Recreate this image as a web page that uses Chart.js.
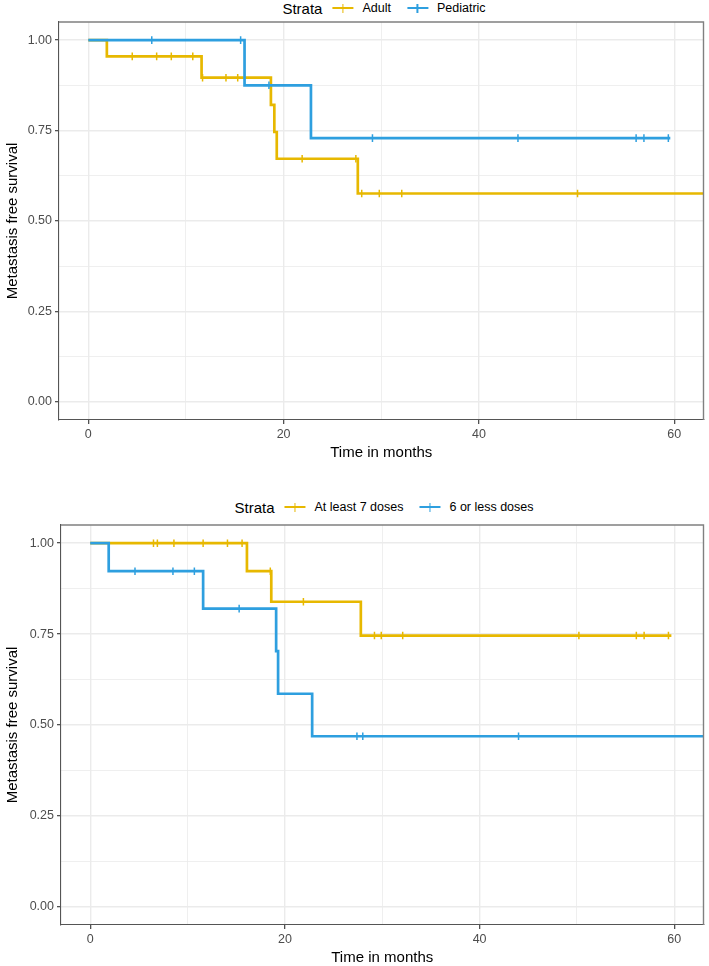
<!DOCTYPE html>
<html>
<head>
<meta charset="utf-8">
<script src="https://cdn.jsdelivr.net/npm/chart.js@4.4.1/dist/chart.umd.min.js"></script>
<style>
  html, body { margin: 0; padding: 0; background: #fff; overflow: hidden; }
  body { width: 709px; height: 966px; position: relative; font-family: "Liberation Sans", Arial, sans-serif; }
  canvas.plot { position: absolute; left: 0; }
  .legend { position: absolute; left: 384px; transform: translateX(-50%); height: 16px; display: flex; align-items: center; white-space: nowrap; color: #000; }
  .legend .title { font-size: 15px; margin-right: 10px; }
  .legend .key { position: relative; width: 21px; height: 9px; margin-right: 9px; }
  .legend .key::before { content: ""; position: absolute; left: 0; right: 0; top: 3.3px; height: 2.5px; background: var(--c); }
  .legend .key::after { content: ""; position: absolute; left: 9.7px; width: 1.5px; top: 0; bottom: 0; background: var(--c); }
  .legend .lab { font-size: 12.5px; margin-right: 16px; }
  .legend .lab:last-child { margin-right: 0; }
</style>
</head>
<body>
<div class="legend" id="legend-top" style="top:0px"></div>
<canvas class="plot" id="chartTop" width="709" height="466" style="top:0px"></canvas>
<div class="legend" id="legend-bottom" style="top:499px"></div>
<canvas class="plot" id="chartBottom" width="709" height="491" style="top:480px"></canvas>

<script>
// --- DADES ---
const GOLD = "#E7B800";
const BLUE = "#2E9FDF";

// eixos
const xTicks = [0, 20, 40, 60];
const xGrid = [0, 10, 20, 30, 40, 50, 60];
const yTicks = [0, 0.25, 0.5, 0.75, 1];
const yGrid = [0, 0.125, 0.25, 0.375, 0.5, 0.625, 0.75, 0.875, 1];

// gràfic 1: Adult / Pediatric
const adultTimes = [0, 1.9, 11.6, 18.7, 19.05, 19.3, 27.6];
const adultSurv = [1, 0.955, 0.896, 0.821, 0.746, 0.672, 0.576];
const adultEnd = 70;
const adultCensor = [4.5, 7.0, 8.5, 10.7, 11.7, 14.1, 15.3, 21.9, 27.4, 28.0, 29.8, 32.1, 50.1];

const pedTimes = [0, 16.0, 22.8];
const pedSurv = [1, 0.875, 0.729];
const pedEnd = 59.6;
const pedCensor = [6.5, 15.6, 18.5, 29.1, 44.0, 56.1, 56.9, 59.4];

// gràfic 2: At least 7 doses / 6 or less doses
const doses7Times = [0, 16.1, 18.6, 27.8];
const doses7Surv = [1, 0.923, 0.839, 0.746];
const doses7End = 59.7;
const doses7Censor = [6.5, 6.9, 8.6, 11.6, 14.1, 15.6, 18.5, 21.9, 29.2, 29.9, 32.1, 50.2, 56.1, 56.9, 59.4];

const doses6Times = [0, 1.9, 11.6, 19.1, 19.3, 22.8];
const doses6Surv = [1, 0.923, 0.82, 0.703, 0.586, 0.469];
const doses6End = 70;
const doses6Censor = [4.6, 8.5, 10.7, 15.3, 27.4, 28.0, 44.0];

const FONT = "'Liberation Sans', Arial, sans-serif";

// valor de la corba en el temps t (esglaó)
function survAt(times, surv, t) {
  let v = surv[0];
  for (let i = 0; i < times.length; i++) if (times[i] <= t) v = surv[i];
  return v;
}

function curveDatasets(label, color, times, surv, end, censor, order) {
  const pts = times.map((t, i) => ({ x: t, y: surv[i] }));
  pts.push({ x: end, y: surv[surv.length - 1] });
  return [
    {
      label: label,
      data: pts,
      stepped: true,
      borderColor: color,
      borderWidth: 2.7,
      borderJoinStyle: "miter",
      pointRadius: 0,
      fill: false,
      order: order,
    },
    {
      label: label + " censor",
      data: censor.map((t) => ({ x: t, y: survAt(times, surv, t) })),
      showLine: false,
      pointStyle: "line",
      rotation: 90,
      pointRadius: 3.8,
      pointBorderWidth: 1.5,
      pointBorderColor: color,
      pointBackgroundColor: color,
      borderColor: color,
      order: order,
    },
  ];
}

// vora superior i dreta del panell
const panelBorder = {
  id: "panelBorder",
  afterDatasetsDraw(chart) {
    const { ctx, chartArea: a } = chart;
    ctx.save();
    ctx.strokeStyle = "#808080";
    ctx.lineWidth = 1.4;
    ctx.beginPath();
    ctx.moveTo(a.left, a.top);
    ctx.lineTo(a.right, a.top);
    ctx.lineTo(a.right, a.bottom);
    ctx.stroke();
    ctx.restore();
  },
};

function gridOpts(majors) {
  return {
    color: (c) => "#EBEBEB",
    lineWidth: (c) => (c.tick && majors.includes(c.tick.value) ? 1.4 : 0.8),
    tickColor: (c) => (c.tick && majors.includes(c.tick.value) ? "#333333" : "rgba(0,0,0,0)"),
    tickLength: 4,
    tickWidth: 1.1,
  };
}

function makeChart(id, datasets, yWidth, pad) {
  return new Chart(document.getElementById(id), {
    type: "line",
    data: { datasets: datasets },
    plugins: [panelBorder],
    options: {
      responsive: false,
      animation: false,
      layout: { padding: pad },
      plugins: { legend: { display: false }, tooltip: { enabled: false } },
      scales: {
        x: {
          type: "linear",
          min: -3,
          max: 63,
          afterBuildTicks: (s) => { s.ticks = xGrid.map((v) => ({ value: v })); },
          afterFit: (s) => { s.height = 46; },
          ticks: {
            autoSkip: false,
            maxRotation: 0,
            padding: 3,
            color: "#4D4D4D",
            font: { family: FONT, size: 12.5 },
            callback: (v) => (xTicks.includes(v) ? String(v) : ""),
          },
          grid: gridOpts(xTicks),
          border: { color: "#555555", width: 1.1 },
          title: {
            display: true,
            text: "Time in months",
            color: "#000",
            font: { family: FONT, size: 15 },
            padding: { top: 0, bottom: 4 },
          },
        },
        y: {
          type: "linear",
          min: -0.05,
          max: 1.05,
          afterBuildTicks: (s) => { s.ticks = yGrid.map((v) => ({ value: v })); },
          afterFit: (s) => { s.width = yWidth; },
          ticks: {
            autoSkip: false,
            padding: 3,
            color: "#4D4D4D",
            font: { family: FONT, size: 12.5 },
            callback: (v) => (yTicks.includes(v) ? v.toFixed(2) : ""),
          },
          grid: gridOpts(yTicks),
          border: { color: "#555555", width: 1.1 },
          title: {
            display: true,
            text: "Metastasis free survival",
            color: "#000",
            font: { family: FONT, size: 15 },
            padding: { top: 4, bottom: 0 },
          },
        },
      },
    },
  });
}

function makeLegend(id, items) {
  const el = document.getElementById(id);
  let html = '<span class="title">Strata</span>';
  items.forEach((it) => {
    html += '<span class="key" style="--c:' + it.color + '"></span><span class="lab">' + it.label + "</span>";
  });
  el.innerHTML = html;
}

// --- GRÀFICS ---
makeLegend("legend-top", [
  { label: "Adult", color: GOLD },
  { label: "Pediatric", color: BLUE },
]);
makeChart(
  "chartTop",
  [
    ...curveDatasets("Pediatric", BLUE, pedTimes, pedSurv, pedEnd, pedCensor, 0),
    ...curveDatasets("Adult", GOLD, adultTimes, adultSurv, adultEnd, adultCensor, 1),
  ],
  59,
  { top: 22, right: 5, left: 0, bottom: 0 }
);

makeLegend("legend-bottom", [
  { label: "At least 7 doses", color: GOLD },
  { label: "6 or less doses", color: BLUE },
]);
makeChart(
  "chartBottom",
  [
    ...curveDatasets("6 or less doses", BLUE, doses6Times, doses6Surv, doses6End, doses6Censor, 0),
    ...curveDatasets("At least 7 doses", GOLD, doses7Times, doses7Surv, doses7End, doses7Censor, 1),
  ],
  61,
  { top: 45, right: 2, left: 0, bottom: 0 }
);
</script>
</body>
</html>
